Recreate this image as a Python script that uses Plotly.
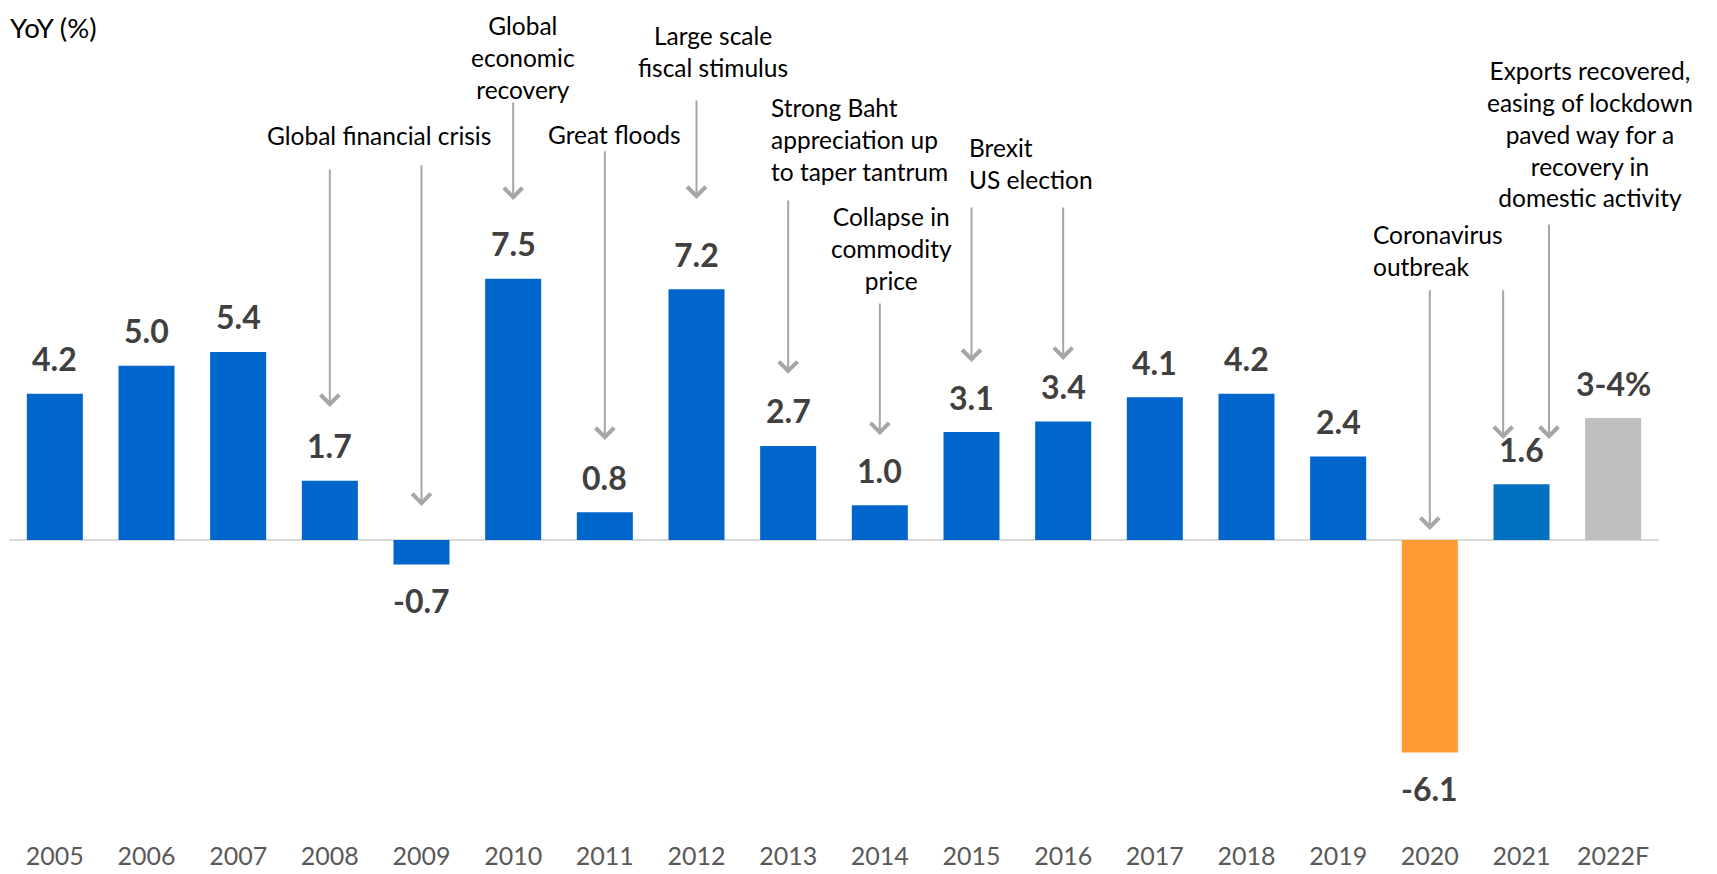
import plotly.graph_objects as go

# ---------------- data ----------------
years = ["2005", "2006", "2007", "2008", "2009", "2010", "2011", "2012", "2013",
         "2014", "2015", "2016", "2017", "2018", "2019", "2020", "2021", "2022F"]
growth = [4.2, 5.0, 5.4, 1.7, -0.7, 7.5, 0.8, 7.2, 2.7,
          1.0, 3.1, 3.4, 4.1, 4.2, 2.4, -6.1, 1.6, 3.5]
value_labels = ["4.2", "5.0", "5.4", "1.7", "-0.7", "7.5", "0.8", "7.2", "2.7",
                "1.0", "3.1", "3.4", "4.1", "4.2", "2.4", "-6.1", "1.6", "3-4%"]

# event notes: (text, x position in category units, y in data units, anchor)
event_texts = [
    ("Global financial crisis", 3.54, 11.60, "center"),
    ("Global<br>economic<br>recovery", 5.11, 13.86, "center"),
    ("Great floods", 6.11, 11.63, "center"),
    ("Large scale<br>fiscal stimulus", 7.18, 14.01, "center"),
    ("Strong Baht<br>appreciation up<br>to taper tantrum", 7.79, 11.51, "left"),
    ("Collapse in<br>commodity<br>price", 9.13, 8.38, "center"),
    ("Brexit<br>US election", 9.95, 10.80, "left"),
    ("Coronavirus<br>outbreak", 14.36, 8.31, "left"),
    ("Exports recovered,<br>easing of lockdown<br>paved way for a<br>recovery in<br>domestic activity",
     16.75, 11.66, "center"),
]
# arrows: (x in category units, tip y, tail y)
event_arrows = [
    (3, 3.82, 10.68),
    (4, 0.98, 10.80),
    (5, 9.76, 12.60),
    (6, 2.87, 11.20),
    (7, 9.79, 12.66),
    (8, 4.77, 9.79),
    (9, 3.01, 6.83),
    (10, 5.11, 9.59),
    (11, 5.17, 9.59),
    (15, 0.29, 7.21),
    (15.80, 2.90, 7.21),
    (16.30, 2.90, 9.10),
]

# ---------------- styles ----------------
BLUE = "#0066CC"
special_colors = {"2020": "#FF9933", "2021": "#0070C0", "2022F": "#BFBFBF"}
bar_colors = [special_colors.get(y, BLUE) for y in years]
FONT = "Lato"

fig = go.Figure()
fig.add_trace(go.Bar(
    x=list(range(len(years))), y=growth,
    marker=dict(color=bar_colors, line=dict(width=0)),
    hoverinfo="skip",
))

annotations = []
# value labels
for i, (v, lab) in enumerate(zip(growth, value_labels)):
    annotations.append(dict(
        x=i, y=v, xref="x", yref="y", text=lab, showarrow=False,
        yshift=35 if v >= 0 else -36,
        font=dict(family=FONT, size=32, color="#404040", weight="bold"),
        xanchor="center", yanchor="middle",
    ))
# event texts
for txt, xpos, ypos, al in event_texts:
    annotations.append(dict(
        x=xpos, y=ypos, xref="x", yref="y", text=txt, showarrow=False,
        align=al, xanchor=al, yanchor="middle",
        font=dict(family=FONT, size=24.5, color="#000000"),
    ))
# arrows
for xpos, tip, tail in event_arrows:
    annotations.append(dict(
        x=xpos, y=tip, xref="x", yref="y", ax=xpos, ay=tail,
        axref="x", ayref="y", text="", showarrow=True,
        arrowhead=4, arrowsize=1.8, arrowwidth=2, arrowcolor="#A6A6A6",
        standoff=0, startstandoff=0,
    ))
# y-axis unit label
annotations.append(dict(
    x=0.0, y=0.976, xref="paper", yref="paper", text="YoY (%)",
    showarrow=False, xanchor="left", yanchor="middle", xshift=-1,
    font=dict(family=FONT, size=27.5, color="#000000"),
))

fig.update_layout(
    width=1709, height=866,
    margin=dict(l=1, r=58, t=0, b=35, autoexpand=False),
    paper_bgcolor="white", plot_bgcolor="white",
    bargap=0.389,
    showlegend=False,
    annotations=annotations,
    xaxis=dict(
        range=[-0.5, 17.5], tickmode="array",
        tickvals=list(range(len(years))), ticktext=years,
        showgrid=False, zeroline=False, showline=False, ticks="",
        tickfont=dict(family=FONT, size=25, color="#595959"),
        automargin=False,
    ),
    yaxis=dict(
        range=[-8.58, 15.27], showgrid=False, showticklabels=False,
        zeroline=True, zerolinecolor="#D9D9D9", zerolinewidth=2,
        showline=False, ticks="", automargin=False,
    ),
)

fig.write_html("out.html")
